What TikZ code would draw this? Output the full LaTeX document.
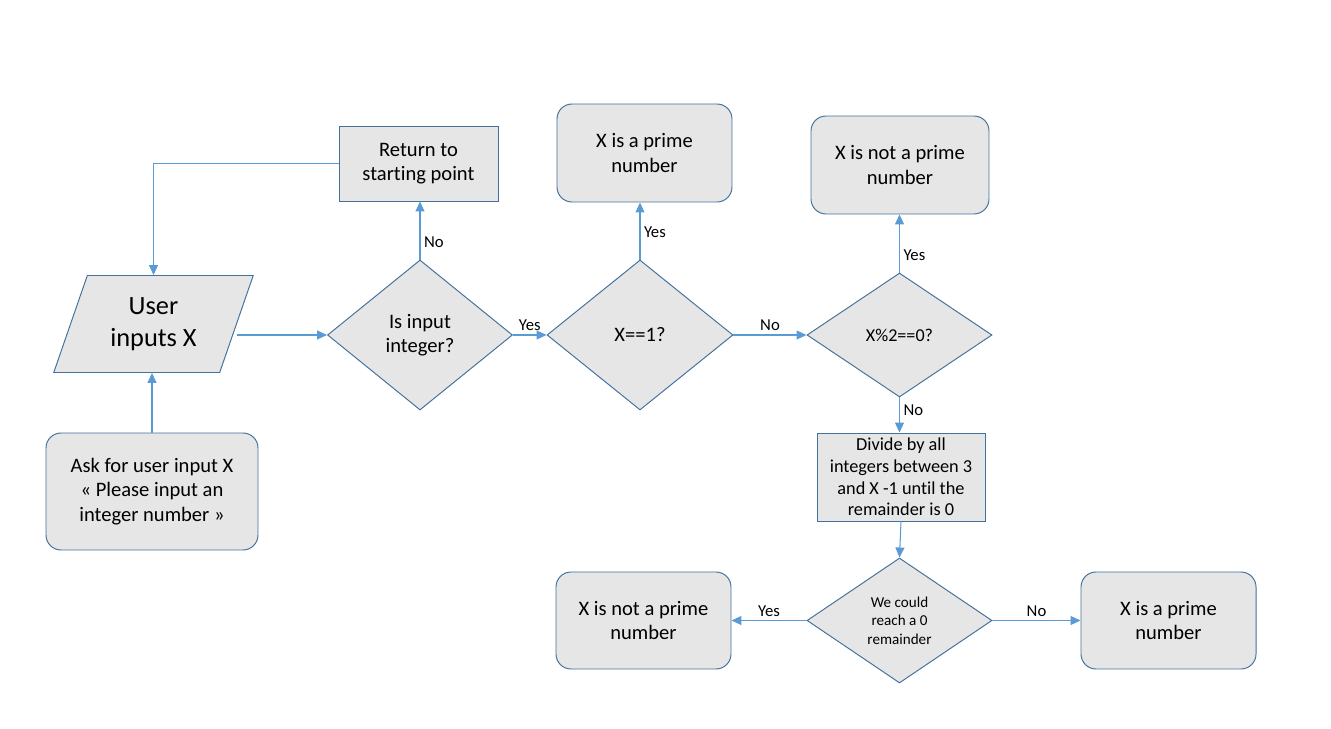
\documentclass[tikz,border=0pt]{standalone}
\usepackage{fontspec}
\setmainfont{Carlito}[Ligatures=NoCommon]
\usetikzlibrary{shapes.geometric,arrows.meta}
\definecolor{edgeblue}{HTML}{41719C}
\definecolor{linkblue}{HTML}{5B9BD5}
\definecolor{boxgray}{HTML}{E7E6E6}
\begin{document}
\begin{tikzpicture}[x=0.2mm,y=-0.2mm,
	base/.style={draw=edgeblue,fill=boxgray,line width=0.55pt,align=center,inner sep=0pt,font=\fontsize{11.7}{14}\selectfont},
	endbox/.style={base,rounded corners=3mm,minimum width=35mm,minimum height=19.6mm},
	procbox/.style={base,rectangle},
	decide/.style={base,diamond,minimum width=37mm,minimum height=30mm},
	link/.style={draw=linkblue,line width=0.6pt,-{Triangle[length=2mm,width=1.8mm]}},
	tag/.style={font=\fontsize{9.5}{11}\selectfont,inner sep=2pt}]
	\useasboundingbox (0,0) rectangle (1331,729);
	\node [base,trapezium,trapezium left angle=67.6,trapezium right angle=112.4,trapezium stretches=true,minimum width=40.2mm,minimum height=19.4mm,font=\fontsize{15}{18.2}\selectfont] (inp) at (153.5,324) {User\\inputs X};
	\node [endbox,minimum width=42.4mm,minimum height=23.4mm] (ask) at (152,491.5) {Ask for user input X\\« Please input an\\integer number »};
	\node [procbox,minimum width=31.8mm,minimum height=15mm] (ret) at (418.5,163.5) {Return to\\starting point};
	\node [decide] (isint) at (420,335) {Is input\\integer?};
	\node [decide,minimum width=37.2mm] (isone) at (640,335) {X==1?};
	\node [endbox] (primea) at (644.5,153) {X is a prime\\number};
	\node [decide,minimum height=24.8mm,font=\fontsize{10.3}{12}\selectfont] (iseven) at (899.5,335) {X\%2==0?};
	\node [endbox,minimum width=35.6mm] (notprimea) at (900,165) {X is not a prime\\number};
	\node [procbox,minimum width=33.6mm,minimum height=17.6mm,font=\fontsize{10.4}{12.3}\selectfont] (divide) at (901,477) {Divide by all\\integers between 3\\and X -1 until the\\remainder is 0};
	\node [decide,minimum height=25mm,font=\fontsize{8.6}{10.5}\selectfont] (zerorem) at (899.5,620.5) {We could\\reach a 0\\remainder};
	\node [endbox,minimum height=19.4mm] (notprimeb) at (643.5,620.5) {X is not a prime\\number};
	\node [endbox,minimum height=19.4mm] (primeb) at (1168.5,620.5) {X is a prime\\number};
	\draw [link] (ask.north) -- (ask.north |- inp.south);
	\draw [link] (ret.west) -| (inp.north);
	\draw [link] (inp.east |- isint.west) -- (isint.west);
	\draw [link] (isint.north) -- (isint.north |- ret.south) node [tag,pos=0.3,right] {No};
	\draw [link] (isint.east) -- (isone.west) node [tag,midway,above] {Yes};
	\draw [link] (isone.north) -- (isone.north |- primea.south) node [tag,pos=0.48,right] {Yes};
	\draw [link] (isone.east) -- (iseven.west) node [tag,midway,above] {No};
	\draw [link] (iseven.north) -- (iseven.north |- notprimea.south) node [tag,pos=0.29,right] {Yes};
	\draw [link] (iseven.south) -- (iseven.south |- divide.north) node [tag,pos=0.36,right] {No};
	\draw [link] (divide.south) -- (zerorem.north);
	\draw [link] (zerorem.west) -- (notprimeb.east) node [tag,midway,above] {Yes};
	\draw [link] (zerorem.east) -- (primeb.west) node [tag,midway,above] {No};
\end{tikzpicture}
\end{document}
